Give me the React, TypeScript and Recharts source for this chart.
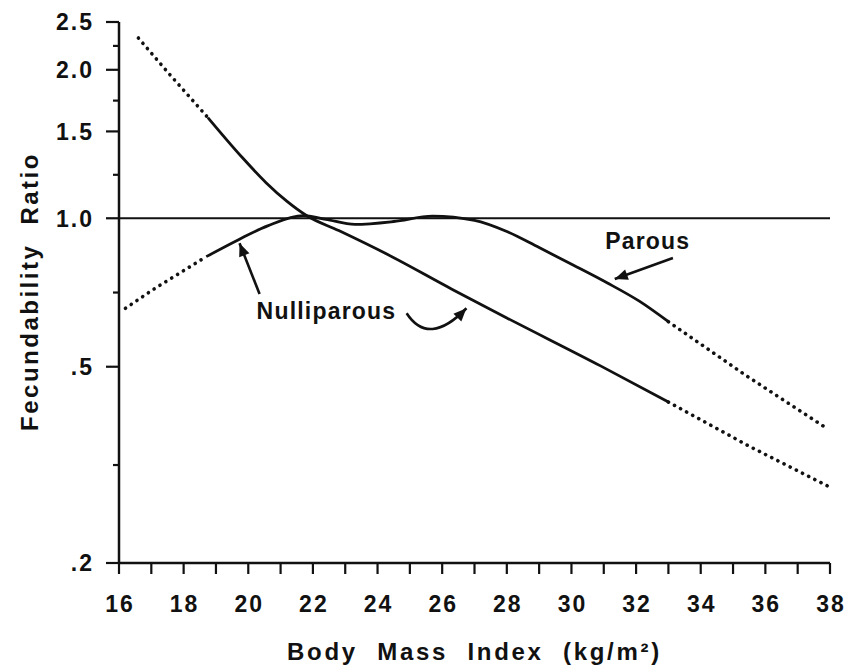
import { LineChart, Line, XAxis, YAxis, ReferenceLine, ReferenceDot } from 'recharts';

// values: BMI (x) and fecundability ratio (log y)

// curve falling steeply from the top left, then declining almost straight
const fallHeadBmi = [16.6, 17.5, 18.75];
const fallHeadRatio = [2.32, 1.98, 1.6];
const fallBmi = [18.75, 19.8, 20.55, 21.2, 21.8, 22.8, 24.3, 26.3, 28.0, 30.9, 33.0];
const fallRatio = [1.6, 1.331, 1.181, 1.082, 1.013, 0.944, 0.845, 0.718, 0.628, 0.502, 0.424];
const fallTailBmi = [33.0, 35.5, 37.95];
const fallTailRatio = [0.424, 0.345, 0.286];

// curve rising to 1.0, wobbling around it, then declining
const humpHeadBmi = [16.2, 17.1, 18.7];
const humpHeadRatio = [0.657, 0.72, 0.836];
const humpBmi = [18.7, 19.7, 20.6, 21.7, 22.4, 23.3, 24.5, 25.7, 27.0, 28.0, 29.0, 30.05, 31.1, 32.1, 33.0];
const humpRatio = [0.836, 0.905, 0.965, 1.012, 0.995, 0.972, 0.985, 1.01, 0.99, 0.94, 0.872, 0.804, 0.74, 0.679, 0.617];
const humpTailBmi = [33.0, 35.4, 37.9];
const humpTailRatio = [0.617, 0.48, 0.375];

const xTicks = [16, 17, 18, 19, 20, 21, 22, 23, 24, 25, 26, 27, 28, 29, 30, 31, 32, 33, 34, 35, 36, 37, 38];
const xLabelled = [16, 18, 20, 22, 24, 26, 28, 30, 32, 34, 36, 38];
const yMajor = [0.2, 0.5, 1.0, 1.5, 2.0, 2.5];
const yMajorLabels = ['.2', '.5', '1.0', '1.5', '2.0', '2.5'];
const yMinor = [0.316, 0.707, 1.225, 1.732, 2.236];

const FONT = '"Liberation Sans", Arial, Helvetica, sans-serif';
const INK = '#111';

const toPoints = (xs: number[], ys: number[]) => xs.map((x, i) => ({ bmi: x, ratio: ys[i] }));

const solidStyle = { stroke: INK, strokeWidth: 2.8 };
const dottedStyle = { stroke: INK, strokeWidth: 3.6, strokeDasharray: '0.1 6.8', strokeLinecap: 'round' as const };

const YTick = (props: any) => {
  const { x, y, payload } = props;
  const i = yMajor.indexOf(payload.value);
  const len = i >= 0 ? 13 : 6;
  return (
    <g>
      <line x1={x - len} y1={y} x2={x} y2={y} stroke={INK} strokeWidth={2.2} />
      {i >= 0 && (
        <text x={x - 25} y={y} dy="0.36em" textAnchor="end" fontFamily={FONT} fontWeight="bold"
          fontSize={23} letterSpacing={2} fill={INK}>
          {yMajorLabels[i]}
        </text>
      )}
    </g>
  );
};

const XTick = (props: any) => {
  const { x, y, payload } = props;
  const show = xLabelled.includes(payload.value);
  return (
    <g>
      <line x1={x} y1={y} x2={x} y2={y + 11} stroke={INK} strokeWidth={2.2} />
      {show && (
        <text x={x + 1} y={y + 49} textAnchor="middle" fontFamily={FONT} fontWeight="bold"
          fontSize={23} letterSpacing={2} fill={INK}>
          {payload.value}
        </text>
      )}
    </g>
  );
};

const arrowHead = (x: number, y: number, fromX: number, fromY: number, size = 13, half = 5.5) => {
  const dx = x - fromX;
  const dy = y - fromY;
  const d = Math.hypot(dx, dy) || 1;
  const ux = dx / d;
  const uy = dy / d;
  const bx = x - ux * size;
  const by = y - uy * size;
  return `${x},${y} ${bx - uy * half},${by + ux * half} ${bx + uy * half},${by - ux * half}`;
};

// straight arrow, head at the second point
const StraightArrow = (p: any) => (
  <g>
    <line x1={p.x1} y1={p.y1} x2={p.x2} y2={p.y2} stroke={INK} strokeWidth={2.6} />
    <polygon points={arrowHead(p.x2, p.y2, p.x1, p.y1)} fill={INK} />
  </g>
);

// hooked arrow that dips below and swings up to the second point
const CurvedArrow = (p: any) => {
  const cx = p.x1 + (p.x2 - p.x1) * 0.37;
  const cy = Math.max(p.y1, p.y2) + 34;
  return (
    <g>
      <path d={`M${p.x1},${p.y1} Q${cx},${cy} ${p.x2},${p.y2}`} fill="none" stroke={INK} strokeWidth={2.6} />
      <polygon points={arrowHead(p.x2, p.y2, cx, cy)} fill={INK} />
    </g>
  );
};

const textShape = (label: string) => (p: any) => (
  <text x={p.cx} y={p.cy} dy="0.36em" textAnchor="middle" fontFamily={FONT} fontWeight="bold"
    fontSize={23} letterSpacing={1.2} fill={INK}>
    {label}
  </text>
);

export default function App() {
  return (
    <div style={{ position: 'absolute', left: 0, top: 0, background: '#fff' }}>
      <LineChart width={846} height={668} margin={{ top: 22, right: 16, bottom: 0, left: 0 }}>
        <XAxis
          dataKey="bmi"
          type="number"
          domain={[16, 38]}
          ticks={xTicks}
          interval={0}
          height={105}
          tickSize={0}
          tickMargin={0}
          tickLine={false}
          tick={<XTick />}
          axisLine={{ stroke: INK, strokeWidth: 2.5 }}
          label={{
            content: (lp: any) => {
              const vb = lp.viewBox;
              return (
                <text x={vb.x + vb.width / 2} y={vb.y + 97} textAnchor="middle" fontFamily={FONT}
                  fontWeight="bold" fontSize={24} letterSpacing={2.7} wordSpacing={10} fill={INK}>
                  Body Mass Index (kg/m²)
                </text>
              );
            },
          }}
        />
        <YAxis
          dataKey="ratio"
          type="number"
          scale="log"
          domain={[0.2, 2.5]}
          ticks={[...yMajor, ...yMinor]}
          interval={0}
          width={119}
          tickSize={0}
          tickMargin={0}
          tickLine={false}
          tick={<YTick />}
          axisLine={{ stroke: INK, strokeWidth: 2.5 }}
          label={{
            content: (lp: any) => {
              const vb = lp.viewBox;
              const cy = vb.y + vb.height / 2 - 1;
              return (
                <text x={38} y={cy} transform={`rotate(-90 38 ${cy})`} textAnchor="middle" fontFamily={FONT}
                  fontWeight="bold" fontSize={24} letterSpacing={2.5} wordSpacing={10} fill={INK}>
                  Fecundability Ratio
                </text>
              );
            },
          }}
        />
        <ReferenceLine y={1} stroke={INK} strokeWidth={2} />

        <Line data={toPoints(fallHeadBmi, fallHeadRatio)} dataKey="ratio" type="linear" dot={false} activeDot={false} isAnimationActive={false} {...dottedStyle} />
        <Line data={toPoints(fallBmi, fallRatio)} dataKey="ratio" type="monotone" dot={false} activeDot={false} isAnimationActive={false} {...solidStyle} />
        <Line data={toPoints(fallTailBmi, fallTailRatio)} dataKey="ratio" type="linear" dot={false} activeDot={false} isAnimationActive={false} {...dottedStyle} />
        <Line data={toPoints(humpHeadBmi, humpHeadRatio)} dataKey="ratio" type="linear" dot={false} activeDot={false} isAnimationActive={false} {...dottedStyle} />
        <Line data={toPoints(humpBmi, humpRatio)} dataKey="ratio" type="monotone" dot={false} activeDot={false} isAnimationActive={false} {...solidStyle} />
        <Line data={toPoints(humpTailBmi, humpTailRatio)} dataKey="ratio" type="linear" dot={false} activeDot={false} isAnimationActive={false} {...dottedStyle} />

        {/* annotations */}
        <ReferenceDot x={32.36} y={0.9} r={0} shape={textShape('Parous')} />
        <ReferenceLine segment={[{ x: 33.14, y: 0.831 }, { x: 31.34, y: 0.753 }]} shape={StraightArrow} />
        <ReferenceDot x={22.42} y={0.649} r={0} shape={textShape('Nulliparous')} />
        <ReferenceLine segment={[{ x: 20.35, y: 0.702 }, { x: 19.73, y: 0.89 }]} shape={StraightArrow} />
        <ReferenceLine segment={[{ x: 24.9, y: 0.642 }, { x: 26.75, y: 0.657 }]} shape={CurvedArrow} />
      </LineChart>
    </div>
  );
}
